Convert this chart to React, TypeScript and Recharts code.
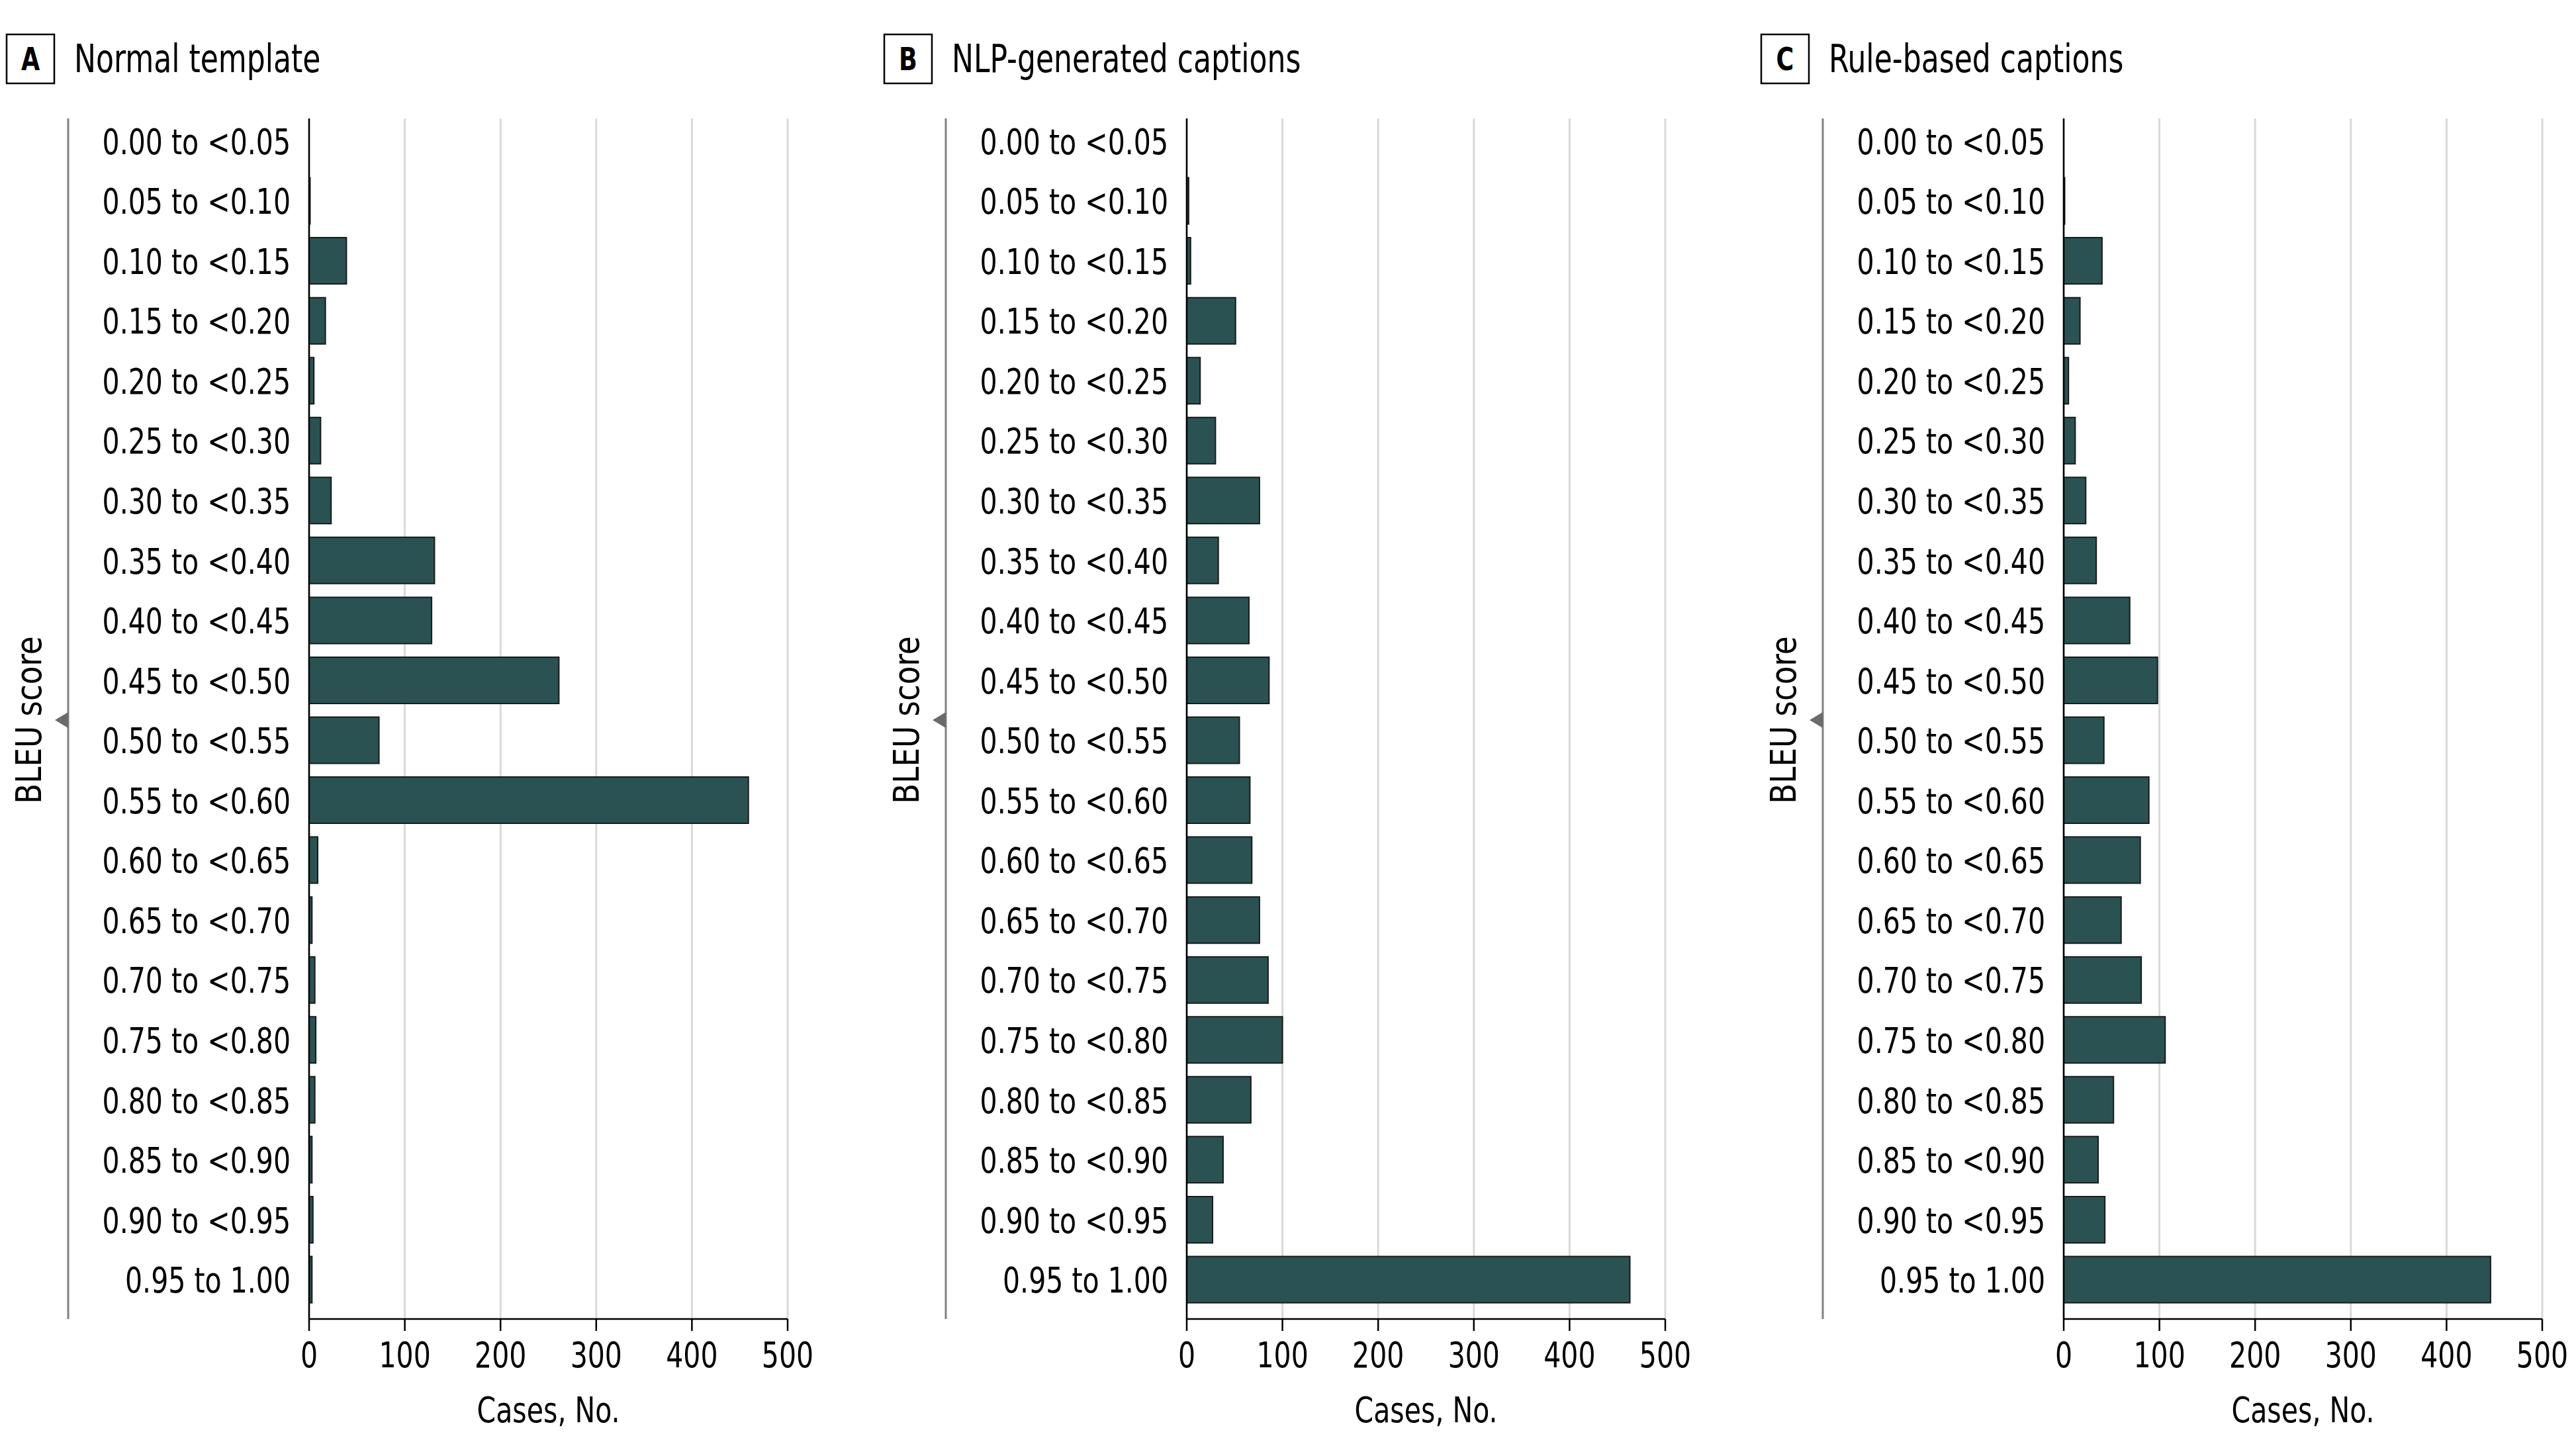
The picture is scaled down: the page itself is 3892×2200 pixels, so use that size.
import { BarChart, Bar, XAxis, YAxis, CartesianGrid } from "recharts";

const categories = [
  "0.00 to <0.05", "0.05 to <0.10", "0.10 to <0.15", "0.15 to <0.20", "0.20 to <0.25",
  "0.25 to <0.30", "0.30 to <0.35", "0.35 to <0.40", "0.40 to <0.45", "0.45 to <0.50",
  "0.50 to <0.55", "0.55 to <0.60", "0.60 to <0.65", "0.65 to <0.70", "0.70 to <0.75",
  "0.75 to <0.80", "0.80 to <0.85", "0.85 to <0.90", "0.90 to <0.95", "0.95 to 1.00",
];

// cases per BLEU bin
const normalTemplate = [0, 1, 39, 17, 5, 12, 23, 131, 128, 261, 73, 459, 9, 3, 6, 7, 6, 3, 4, 3];
const nlpCaptions = [0, 2, 4, 51, 14, 30, 76, 33, 65, 86, 55, 66, 68, 76, 85, 100, 67, 38, 27, 463];
const ruleCaptions = [0, 1, 40, 17, 5, 12, 23, 34, 69, 98, 42, 89, 80, 60, 81, 106, 52, 36, 43, 446];

const xTicks = [0, 100, 200, 300, 400, 500];

const panelLetters = ["A", "B", "C"];
const panelTitles = ["Normal template", "NLP-generated captions", "Rule-based captions"];
const panelValues = [normalTemplate, nlpCaptions, ruleCaptions];

const FONT = '"Liberation Sans Narrow", "Arial Narrow", "DejaVu Sans Condensed", sans-serif';
const BAR = "#2b5252";
const SX = 0.845; // squeeze text a bit, the original uses a condensed face

function YTick(props: any) {
  const { x, y, payload } = props;
  return (
    <text
      transform={`translate(${x} ${y}) scale(${SX} 1)`}
      textAnchor="end"
      dy="0.36em"
      fontSize={54}
      fontFamily={FONT}
      fill="#000"
    >
      {payload.value}
    </text>
  );
}

function XTick(props: any) {
  const { x, y, payload } = props;
  return (
    <text
      transform={`translate(${x} ${y}) scale(${SX} 1)`}
      textAnchor="middle"
      dy="0.72em"
      fontSize={54}
      fontFamily={FONT}
      fill="#000"
    >
      {payload.value}
    </text>
  );
}

function CasesLabel(props: any) {
  const vb = props.viewBox;
  const cx = vb.x + vb.width / 2;
  return (
    <text
      transform={`translate(${cx} 2130) scale(${SX} 1)`}
      textAnchor="middle"
      dy="0.36em"
      fontSize={54}
      fontFamily={FONT}
      fill="#000"
    >
      Cases, No.
    </text>
  );
}

function BleuLabel(props: any) {
  const vb = props.viewBox;
  const cy = 1088;
  return (
    <g>
      <line x1={103} x2={103} y1={vb.y} y2={vb.y + vb.height} stroke="#808080" strokeWidth={3} />
      <polygon points={`83,${cy} 103,${cy - 12} 103,${cy + 12}`} fill="#6b6b6b" />
      <text
        transform={`translate(43 ${cy}) rotate(-90) scale(0.93 1)`}
        textAnchor="middle"
        dy="0.36em"
        fontSize={54}
        fontFamily={FONT}
        fill="#000"
      >
        BLEU score
      </text>
    </g>
  );
}

function Panel({ idx }: { idx: number }) {
  const values = panelValues[idx];
  const data = categories.map((c, i) => ({ label: c, cases: values[i] }));
  return (
    <div style={{ position: "absolute", left: idx * 1325.5, top: 0, width: 1326, height: 2200 }}>
      <svg width={1326} height={160} style={{ position: "absolute", left: 0, top: 0 }}>
        <rect x={10} y={52} width={72} height={74} fill="#fff" stroke="#000" strokeWidth={2.5} />
        <text
          transform={`translate(46 89) scale(${SX} 1)`}
          textAnchor="middle"
          dy="0.36em"
          fontSize={48}
          fontWeight="bold"
          fontFamily={FONT}
        >
          {panelLetters[idx]}
        </text>
        <text
          transform={`translate(112 88) scale(${SX} 1)`}
          dy="0.36em"
          fontSize={58}
          fontFamily={FONT}
          fill="#000"
        >
          {panelTitles[idx]}
        </text>
      </svg>
      <BarChart
        width={1326}
        height={2200}
        data={data}
        layout="vertical"
        margin={{ top: 179, right: 136, bottom: 0, left: 0 }}
        style={{ position: "absolute", left: 0, top: 0 }}
      >
        <CartesianGrid horizontal={false} stroke="#d9d9d9" strokeWidth={3} />
        <XAxis
          type="number"
          domain={[0, 500]}
          ticks={xTicks}
          height={207}
          axisLine={{ stroke: "#000", strokeWidth: 2.5 }}
          tickLine={{ stroke: "#000", strokeWidth: 2.5 }}
          tickSize={18}
          tickMargin={16}
          tick={XTick}
          label={{ content: CasesLabel }}
        />
        <YAxis
          type="category"
          dataKey="label"
          width={467}
          interval={0}
          padding={{ top: -11, bottom: 14 }}
          axisLine={{ stroke: "#000", strokeWidth: 2.5 }}
          tickLine={false}
          tickSize={0}
          tickMargin={28}
          tick={YTick}
          label={{ content: BleuLabel }}
        />
        <Bar dataKey="cases" barSize={70} fill={BAR} stroke="#1a1a1a" strokeWidth={2} isAnimationActive={false} />
      </BarChart>
    </div>
  );
}

export default function App() {
  return (
    <div style={{ position: "absolute", left: 0, top: 0, width: 3892, height: 2200, background: "#fff" }}>
      {[0, 1, 2].map((i) => (
        <Panel key={i} idx={i} />
      ))}
    </div>
  );
}
